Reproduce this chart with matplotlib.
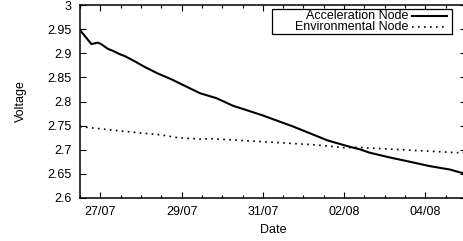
import matplotlib
matplotlib.use("Agg")
import matplotlib.pyplot as plt
import matplotlib.dates as mdates
import pandas as pd
from matplotlib.patches import Rectangle
from matplotlib.lines import Line2D

plt.rcParams['font.family'] = ['Liberation Sans', 'DejaVu Sans']

accel_times = ["07-26 12:00", "07-26 18:45", "07-26 22:30", "07-27 00:30", "07-27 04:30",
               "07-27 07:30", "07-27 11:30", "07-27 14:30", "07-27 20:30", "07-28 02:00",
               "07-28 10:00", "07-28 18:00", "07-29 01:00", "07-29 11:00", "07-29 20:30",
               "07-30 06:30", "07-30 14:30", "07-30 23:15", "07-31 18:00", "08-01 13:45",
               "08-01 16:30", "08-02 03:30", "08-02 09:15", "08-02 15:00", "08-03 03:00",
               "08-03 15:00", "08-04 02:40", "08-04 14:30", "08-04 20:30", "08-04 23:30"]
accel_volts = [2.948, 2.919, 2.922, 2.919, 2.909,
               2.905, 2.898, 2.894, 2.883, 2.872,
               2.858, 2.846, 2.834, 2.817, 2.807,
               2.791, 2.782, 2.772, 2.748, 2.720,
               2.717, 2.706, 2.701, 2.694, 2.684,
               2.675, 2.666, 2.659, 2.653, 2.651]

env_times = ["07-26 12:00", "07-27 06:30", "07-28 02:00", "07-28 11:15", "07-28 22:00",
             "07-29 11:00", "07-29 17:00", "07-30 22:15", "08-01 07:45", "08-02 00:30",
             "08-02 07:30", "08-04 18:30", "08-05 00:00"]
env_volts = [2.748, 2.741, 2.734, 2.731, 2.725,
             2.722, 2.723, 2.717, 2.710, 2.704,
             2.705, 2.694, 2.694]

series_names = ["Acceleration Node", "Environmental Node"]
year = "2010-"

def to_dt(lst):
    return pd.to_datetime([year + s for s in lst], format="%Y-%m-%d %H:%M")

W, H = 463, 241
fig = plt.figure(figsize=(W / 100, H / 100), dpi=100)
ax = fig.add_axes([80 / W, 43 / H, (466 - 80) / W, (236 - 43) / H])

ax.plot(to_dt(accel_times), accel_volts, color='black', lw=1.5, solid_joinstyle='round')
ax.plot(to_dt(env_times), env_volts, color='black', lw=1.2, linestyle=(0, (1, 2.6)))

ax.set_xlim(pd.Timestamp(year + "07-26 12:00"), pd.Timestamp(year + "08-05 00:00"))
ax.set_ylim(2.6, 3.0)
ax.set_yticks([2.6, 2.65, 2.7, 2.75, 2.8, 2.85, 2.9, 2.95, 3.0])
ax.set_yticklabels(["2.6", "2.65", "2.7", "2.75", "2.8", "2.85", "2.9", "2.95", "3"])
ax.xaxis.set_major_locator(mdates.DayLocator(bymonthday=[27, 29, 31, 2, 4]))
ax.xaxis.set_major_formatter(mdates.DateFormatter("%d/%m"))
ax.xaxis.set_minor_locator(mdates.HourLocator(byhour=[0, 12]))

FS = 9
ax.tick_params(which='both', direction='in', top=True, right=True, labelsize=FS, colors='black')
ax.tick_params(which='major', length=4, width=0.8)
ax.tick_params(which='minor', length=2.5, width=0.8)
ax.tick_params(axis='y', pad=6)
ax.tick_params(axis='x', pad=6)
for s in ax.spines.values():
    s.set_linewidth(1.1)

ax.set_xlabel("Date", fontsize=FS, labelpad=4)
ax.set_ylabel("Voltage", fontsize=FS, labelpad=15)

# gnuplot-style legend (text right-aligned, sample on right)
def fx(px):
    return (px - 80) / (466 - 80)
def fy(py):
    return (198 - py) / (198 - 5)
ax.add_patch(Rectangle((fx(271.7), fy(34.3)), fx(452.3) - fx(271.7), fy(9.3) - fy(34.3),
                       transform=ax.transAxes, fill=True, facecolor='white',
                       edgecolor='black', lw=0.9, zorder=5))
for i, (name, ls, lw) in enumerate(zip(series_names, ['-', (0, (1, 2.6))], [1.5, 1.2])):
    yy = fy(16 + i * 11.5)
    ax.text(fx(408), yy, name, transform=ax.transAxes, ha='right', va='center',
            fontsize=FS, zorder=6)
    ax.add_line(Line2D([fx(412), fx(447)], [yy, yy], transform=ax.transAxes,
                       color='black', lw=lw, linestyle=ls, zorder=6))

fig.savefig("out.png", dpi=100)
